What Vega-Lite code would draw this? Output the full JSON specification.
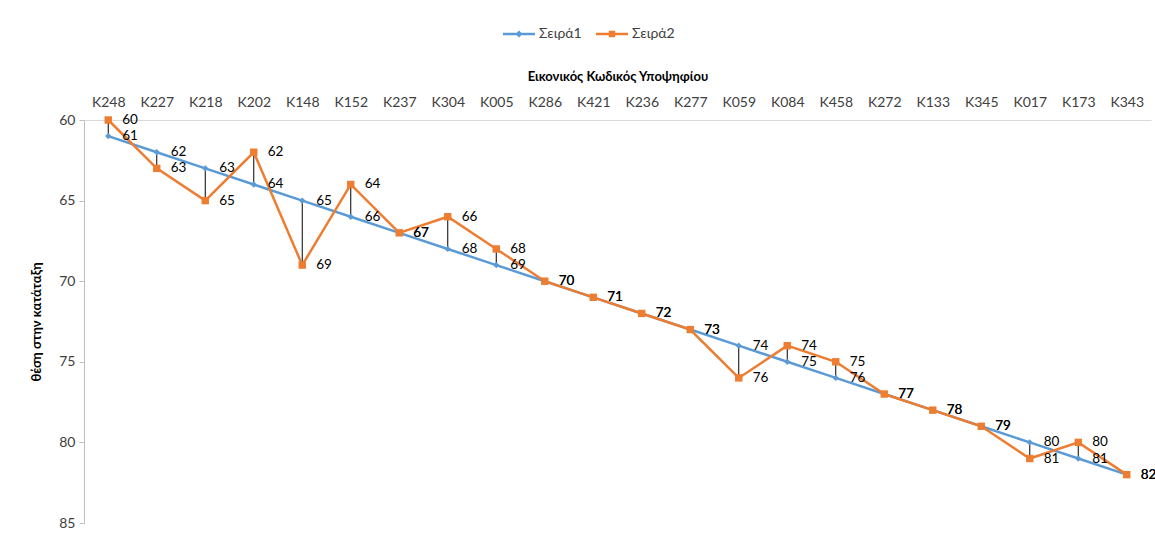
{
  "$schema": "https://vega.github.io/schema/vega-lite/v6.json",
  "width": 1067,
  "height": 403,
  "autosize": "none",
  "padding": {"left": 84, "top": 120, "right": 4, "bottom": 10},
  "background": "white",
  "config": {
    "view": {"stroke": null},
    "font": "Lato",
    "axis": {"grid": false},
    "axisY": {
      "titleFontWeight": "bold", "titleFontSize": 13, "titleColor": "#000000", "titlePadding": 15,
      "labelFontSize": 14, "labelColor": "#404040",
      "tickColor": "#bfbfbf", "tickSize": 5, "domainColor": "#bfbfbf", "labelPadding": 4
    },
    "legend": {
      "orient": "none", "legendX": 419, "legendY": -102, "direction": "horizontal",
      "title": null, "labelFontSize": 14, "labelColor": "#404040",
      "symbolSize": 1024, "symbolStrokeWidth": 0, "symbolOpacity": 1,
      "labelOffset": 4, "columnPadding": 14
    }
  },
  "data": {
    "values": [
      {"code": "K248", "Σειρά1": 61, "Σειρά2": 60},
      {"code": "K227", "Σειρά1": 62, "Σειρά2": 63},
      {"code": "K218", "Σειρά1": 63, "Σειρά2": 65},
      {"code": "K202", "Σειρά1": 64, "Σειρά2": 62},
      {"code": "K148", "Σειρά1": 65, "Σειρά2": 69},
      {"code": "K152", "Σειρά1": 66, "Σειρά2": 64},
      {"code": "K237", "Σειρά1": 67, "Σειρά2": 67},
      {"code": "K304", "Σειρά1": 68, "Σειρά2": 66},
      {"code": "K005", "Σειρά1": 69, "Σειρά2": 68},
      {"code": "K286", "Σειρά1": 70, "Σειρά2": 70},
      {"code": "K421", "Σειρά1": 71, "Σειρά2": 71},
      {"code": "K236", "Σειρά1": 72, "Σειρά2": 72},
      {"code": "K277", "Σειρά1": 73, "Σειρά2": 73},
      {"code": "K059", "Σειρά1": 74, "Σειρά2": 76},
      {"code": "K084", "Σειρά1": 75, "Σειρά2": 74},
      {"code": "K458", "Σειρά1": 76, "Σειρά2": 75},
      {"code": "K272", "Σειρά1": 77, "Σειρά2": 77},
      {"code": "K133", "Σειρά1": 78, "Σειρά2": 78},
      {"code": "K345", "Σειρά1": 79, "Σειρά2": 79},
      {"code": "K017", "Σειρά1": 80, "Σειρά2": 81},
      {"code": "K173", "Σειρά1": 81, "Σειρά2": 80},
      {"code": "K343", "Σειρά1": 82, "Σειρά2": 82}
    ]
  },
  "encoding": {
    "x": {
      "field": "code", "type": "nominal", "sort": null,
      "scale": {"type": "point", "padding": 0.5},
      "axis": {
        "orient": "top", "title": "Εικονικός Κωδικός Υποψηφίου",
        "titleFontSize": 13, "titleFontWeight": "bold", "titleColor": "#000000", "titlePadding": 12,
        "labelAngle": 0, "labelFontSize": 14, "labelColor": "#404040", "ticks": false,
        "labelPadding": 11, "domainColor": "#d9d9d9"
      }
    }
  },
  "resolve": {"scale": {"shape": "independent", "fill": "independent"}},
  "layer": [
    {
      "mark": {"type": "rule", "color": "#000000", "strokeWidth": 1},
      "encoding": {
        "y": {"field": "Σειρά1", "type": "quantitative", "title": "θέση στην κατάταξη",
              "scale": {"domain": [60, 85], "reverse": true, "nice": false},
              "axis": {"values": [60, 65, 70, 75, 80, 85]}},
        "y2": {"field": "Σειρά2"}
      }
    },
    {
      "transform": [{"fold": ["Σειρά1", "Σειρά2"], "as": ["series", "value"]}],
      "encoding": {
        "y": {"field": "value", "type": "quantitative", "title": "θέση στην κατάταξη",
              "scale": {"domain": [60, 85], "reverse": true, "nice": false},
              "axis": {"values": [60, 65, 70, 75, 80, 85]}}
      },
      "layer": [
        {
          "mark": {"type": "line", "strokeWidth": 2.5},
          "encoding": {
            "color": {"field": "series", "type": "nominal",
                      "scale": {"domain": ["Σειρά1", "Σειρά2"], "range": ["#5B9BD5", "#ED7D31"]},
                      "legend": null}
          }
        },
        {
          "mark": {"type": "point", "filled": true, "opacity": 1},
          "encoding": {
            "color": {"field": "series", "type": "nominal",
                      "scale": {"domain": ["Σειρά1", "Σειρά2"], "range": ["#5B9BD5", "#ED7D31"]},
                      "legend": null},
            "shape": {"field": "series", "type": "nominal",
                      "scale": {"domain": ["Σειρά1", "Σειρά2"], "range": ["diamond", "square"]},
                      "legend": null},
            "size": {"field": "series", "type": "nominal",
                     "scale": {"domain": ["Σειρά1", "Σειρά2"], "range": [40, 55]}, "legend": null}
          }
        },
        {
          "mark": {"type": "text", "align": "left", "dx": 14, "baseline": "middle", "fontSize": 13.5, "color": "#000000"},
          "encoding": {"text": {"field": "value", "type": "quantitative"}}
        }
      ]
    },
    {
      "transform": [
        {"fold": ["Σειρά1", "Σειρά2"], "as": ["series", "value"]},
        {"filter": "datum.value < 0"}
      ],
      "mark": {"type": "point", "filled": true},
      "encoding": {
        "y": {"field": "value", "type": "quantitative", "title": "θέση στην κατάταξη",
              "scale": {"domain": [60, 85], "reverse": true, "nice": false},
              "axis": {"values": [60, 65, 70, 75, 80, 85]}},
        "fill": {"field": "series", "type": "nominal",
                 "scale": {"domain": ["Σειρά1", "Σειρά2"], "range": ["#5B9BD5", "#ED7D31"]}},
        "shape": {"field": "series", "type": "nominal",
                  "scale": {"domain": ["Σειρά1", "Σειρά2"],
                            "range": ["M-1,-0.08H1V0.08H-1ZM0,-0.22L0.22,0L0,0.22L-0.22,0Z", "M-1,-0.08H1V0.08H-1ZM-0.2,-0.2H0.2V0.2H-0.2Z"]}}
      }
    }
  ]
}
